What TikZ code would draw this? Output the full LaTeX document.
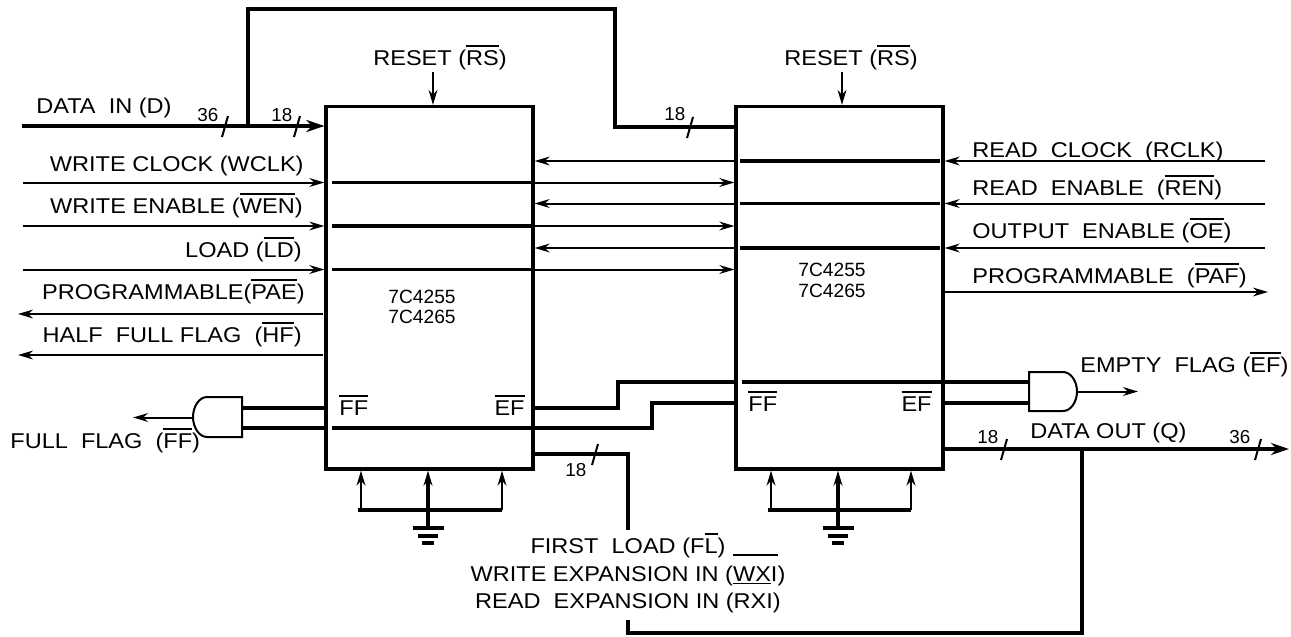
\documentclass[tikz,border=0pt]{standalone}
\usepackage{fontspec}
\setmainfont{Liberation Sans}[FakeStretch=1.1]
\newfontfamily\plainfont{Liberation Sans}
\usetikzlibrary{arrows.meta}
\newcommand\ov[1]{\leavevmode\vbox{\hrule height 0.9pt\kern 1.7pt\hbox{#1}}}
\newcommand\wxibar{\leavevmode\vbox{\hrule height 0.9pt\kern 5pt\hbox{\underline{WX}I}}}
\newcommand\busmark[2]{\draw[sig] (#1,#2) ++(-3,11) -- ++(6,-21);}
\begin{document}
\begin{tikzpicture}[x=0.5pt,y=-0.5pt,
  bus/.style={line width=1.6pt},
  sig/.style={line width=1pt},
  tipS/.style={-{Stealth[length=7.5pt,width=4.4pt]}},
  tipB/.style={-{Stealth[length=9pt,width=6pt]}},
  fifo/.style={draw,line width=1.6pt,minimum width=103.5pt,minimum height=181.25pt,inner sep=0pt},
  gate/.style={draw,line width=1pt,fill=white},
  lab/.style={inner sep=0pt,font=\fontsize{10.7}{12}\selectfont},
  num/.style={inner sep=0pt,font=\plainfont\fontsize{9.4}{10}\selectfont,anchor=base west},
  chip/.style={inner sep=0pt,font=\plainfont\fontsize{9.6}{11}\selectfont,anchor=base}]
\useasboundingbox (0,0) rectangle (1291,637);

% FIFO boxes
\node[fifo] (L) at (429.5,287.75) {};
\node[fifo] (R) at (839.5,287.75) {};

% chip names
\node[chip] (cL1) at (422,303) {7C4255};
\node[chip] (cL2) at (422,323) {7C4265};
\node[chip] (cR1) at (832,276) {7C4255};
\node[chip] (cR2) at (832,297) {7C4265};

% pin labels inside boxes
\node[lab,anchor=base west] (ffL) at (339,415) {\ov{FF}};
\node[lab,anchor=base east] (efL) at (525,415) {\ov{EF}};
\node[lab,anchor=base west] (ffR) at (748,411) {\ov{FF}};
\node[lab,anchor=base east] (efR) at (932,411) {\ov{EF}};

% reset
\coordinate (rsL) at (433,72);
\coordinate (rsR) at (842,72);
\node[lab,anchor=base] (tRsL) at (440,65) {RESET (\ov{RS})};
\node[lab,anchor=base] (tRsR) at (851,65) {RESET (\ov{RS})};
\draw[sig,tipS] (rsL) -- (rsL |- L.north);
\draw[sig,tipS] (rsR) -- (rsR |- R.north);

% data in and branch
\coordinate (dIn) at (22,126);
\draw[bus,tipB] (dIn) -- (dIn -| L.west);
\coordinate (t1) at (248,126);
\coordinate (t2) at (248,9);
\coordinate (t3) at (615,9);
\coordinate (t4) at (615,127);
\draw[bus] (t1) -- (t2) -- (t3) -- (t4) -- (t4 -| R.west);
\busmark{225}{126}
\busmark{297}{126}
\busmark{690}{127}
\node[num] (n36a) at (197,121) {36};
\node[num] (n18a) at (271,121) {18};
\node[num] (n18b) at (664,120) {18};

% left inputs, passing through to right box
\foreach \nm/\yy in {wclk/182.5, wen/226, ld/269.5} {
  \coordinate (\nm) at (23,\yy);
  \coordinate (\nm I) at (332,\yy);
  \draw[sig,tipS] (\nm) -- (\nm -| L.west);
  \draw[bus] (\nm I) -- (\nm I -| L.east);
  \draw[sig,tipS] (\nm I -| L.east) -- (\nm I -| R.west);
}
% right inputs, passing through to left box
\foreach \nm/\yy in {rclk/161, ren/203.5, oe/248} {
  \coordinate (\nm) at (1265,\yy);
  \coordinate (\nm A) at (740,\yy);
  \coordinate (\nm B) at (940,\yy);
  \draw[sig,tipS] (\nm) -- (\nm -| R.east);
  \draw[bus] (\nm A) -- (\nm B);
  \draw[sig,tipS] (\nm A -| R.west) -- (\nm A -| L.east);
}
\coordinate (paf) at (1268,292);
\draw[sig,tipS] (paf -| R.east) -- (paf);
\coordinate (pae) at (18,314);
\coordinate (paeS) at (323,314);
\draw[sig,tipS] (paeS) -- (pae);
\coordinate (hf) at (18,355);
\coordinate (hfS) at (323,355);
\draw[sig,tipS] (hfS) -- (hf);

% labels
\node[lab,anchor=base west] (tDin) at (36,113) {DATA~~IN (D)};
\node[lab,anchor=base east] (tWclk) at (304,171) {WRITE CLOCK (WCLK)};
\node[lab,anchor=base east] (tWen) at (303,213) {WRITE ENABLE (\ov{WEN})};
\node[lab,anchor=base east] (tLd) at (302,257) {LOAD (\ov{LD})};
\node[lab,anchor=base east] (tPae) at (305,299) {PROGRAMMABLE(\ov{PAE})};
\node[lab,anchor=base east] (tHf) at (302,342) {HALF~~FULL FLAG~~(\ov{HF})};
\node[lab,anchor=base west] (tFf) at (10,448) {FULL~~FLAG~~(\ov{FF})};
\node[lab,anchor=base west] (tRclk) at (972,157) {READ~~CLOCK~~(RCLK)};
\node[lab,anchor=base west] (tRen) at (972,195) {READ~~ENABLE~~(\ov{REN})};
\node[lab,anchor=base west] (tOe) at (972,238) {OUTPUT~~ENABLE (\ov{OE})};
\node[lab,anchor=base west] (tPaf) at (972,283) {PROGRAMMABLE~~(\ov{PAF})};
\node[lab,anchor=base west] (tEf) at (1080,372) {EMPTY~~FLAG (\ov{EF})};
\node[lab,anchor=base west] (tDout) at (1030,438) {DATA OUT (Q)};
\node[lab,anchor=base] (tFl) at (628,553) {FIRST~~LOAD (F\ov{L})};
\node[lab,anchor=base] (tWxi) at (628,581) {WRITE EXPANSION IN (\wxibar)};
\node[lab,anchor=base] (tRxi) at (628,608) {READ~~EXPANSION IN (RXI)};

% left gate (full flag)
\draw[gate] (242,397) -- (207,397) .. controls (199.3,397) and (193,406.5) .. (193,417)
  .. controls (193,427.5) and (199.3,437) .. (207,437) -- (242,437) -- cycle;
\coordinate (gLa) at (242,408);
\coordinate (gLb) at (242,428);
\coordinate (gLo) at (193,417.5);
\coordinate (ffOut) at (133,417.5);
\draw[sig,tipS] (gLo) -- (ffOut);
\draw[bus] (gLa -| L.west) -- (gLa);
\draw[bus] (gLb) -- (gLb -| L.west);
\coordinate (c428) at (332,428);
\coordinate (k1) at (652,428);
\coordinate (k2) at (652,403);
\draw[bus] (c428) -- (k1) -- (k2) -- (k2 -| R.west);

% right gate (empty flag)
\draw[gate] (1029,372) -- (1063,372) .. controls (1070.7,372) and (1077,381) .. (1077,391.5)
  .. controls (1077,402) and (1070.7,411) .. (1063,411) -- (1029,411) -- cycle;
\coordinate (gRa) at (1029,382);
\coordinate (gRb) at (1029,403);
\coordinate (gRo) at (1077,391.5);
\coordinate (efOut) at (1138,391.5);
\draw[sig,tipS] (gRo) -- (efOut);
\coordinate (k3) at (618,408);
\coordinate (k4) at (618,382);
\coordinate (k5) at (742,382);
\draw[bus] (gLa -| L.east) -- (k3) -- (k4) -- (k4 -| R.west);
\draw[bus] (k5) -- (gRa);
\draw[bus] (gRb -| R.east) -- (gRb);

% data out and expansion
\coordinate (dOut) at (1289,449);
\draw[bus,tipB] (dOut -| R.east) -- (dOut);
\coordinate (x1) at (628,454);
\coordinate (x2) at (628,530);
\coordinate (x3) at (628,620);
\coordinate (x4) at (628,633);
\coordinate (x5) at (1082,633);
\coordinate (x6) at (1082,449);
\draw[bus] (x1 -| L.east) -- (x1) -- (x2);
\draw[bus] (x3) -- (x4) -- (x5) -- (x6);
\busmark{595}{454}
\busmark{1004}{449}
\busmark{1258}{449}
\node[num] (n18c) at (565,476) {18};
\node[num] (n18d) at (977,443) {18};
\node[num] (n36b) at (1229,443) {36};

% grounded pins
\foreach \b/\xa/\xm/\xb in {L/361/428/502, R/771/838/911} {
  \draw[sig,tipS] (\xa,510) -- (\xa,510 |- \b.south);
  \draw[sig,tipS] (\xb,510) -- (\xb,510 |- \b.south);
  \draw[bus,tipS] (\xm,528) -- (\xm,510 |- \b.south);
  \draw[bus] ({\xa-3},510) -- (\xb,510);
  \draw[bus] ({\xm-15.5},528) -- ({\xm+15.5},528);
  \draw[bus] ({\xm-10},536) -- ({\xm+10},536);
  \draw[bus] ({\xm-6},543) -- ({\xm+6},543);
}
\end{tikzpicture}
\end{document}
